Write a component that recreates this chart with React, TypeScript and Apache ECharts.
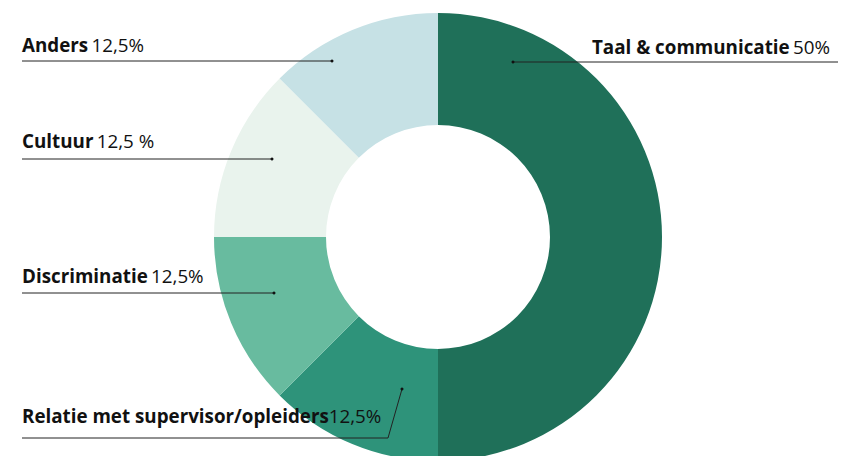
import React, { useEffect, useRef } from "react";
import * as echarts from "echarts";

const categories = ["Taal & communicatie", "Relatie met supervisor/opleiders", "Discriminatie", "Cultuur", "Anders"];
const values = [50, 12.5, 12.5, 12.5, 12.5];
const valueLabels = ["50%", "12,5%", "12,5%", "12,5 %", "12,5%"];
const separators = [" ", "", " ", " ", " "];
const colors = ["#1f7059", "#2e937a", "#68bb9f", "#e9f3ed", "#c6e1e5"];

// label layout: text anchor, alignment and leader line (first point = dot on slice)
const labelPlacements: any[] = [
  { x: 830, y: 47, align: "right", line: [[513, 62], [838, 62]] },
  { x: 22, y: 416, align: "left", line: [[402, 389], [388, 438], [22, 438]] },
  { x: 22, y: 276, align: "left", line: [[274, 293], [22, 293]] },
  { x: 22, y: 141, align: "left", line: [[272, 159], [22, 159]] },
  { x: 22, y: 45, align: "left", line: [[332, 61], [22, 61]] },
];

export default function App() {
  const ref = useRef<HTMLDivElement>(null);
  useEffect(() => {
    if (!ref.current) return;
    const chart = echarts.init(ref.current, null, { renderer: "svg" });
    const graphics: any[] = [];
    labelPlacements.forEach((p) => {
      graphics.push({
        type: "polyline",
        z: 10,
        shape: { points: p.line },
        style: { stroke: "#222", lineWidth: 1, fill: null },
      });
      graphics.push({
        type: "circle",
        z: 11,
        shape: { cx: p.line[0][0], cy: p.line[0][1], r: 1.5 },
        style: { fill: "#111" },
      });
    });
    chart.setOption({
      animation: false,
      backgroundColor: "#ffffff",
      graphic: graphics,
      series: [
        {
          type: "pie",
          center: [438, 237],
          radius: [112, 224],
          startAngle: 90,
          clockwise: true,
          silent: true,
          data: categories.map((c, i) => ({
            name: c,
            value: values[i],
            itemStyle: { color: colors[i] },
            label: {
              formatter: `{b|${c}}${separators[i]}{v|${valueLabels[i]}}`,
            },
          })),
          label: {
            show: true,
            position: "outside",
            overflow: "none",
            alignTo: "none",
            color: "#111",
            rich: {
              b: { fontFamily: "Open Sans", fontWeight: "bold", fontSize: 18.8, color: "#111" },
              v: { fontFamily: "Open Sans", fontWeight: "normal", fontSize: 18.8, color: "#111" },
            },
          },
          labelLine: { show: false },
          labelLayout: (params: any) => {
            const p = labelPlacements[params.dataIndex];
            return {
              x: p.x,
              y: p.y,
              align: p.align,
              verticalAlign: "middle",
              width: 600,
            };
          },
        },
      ],
    });
    return () => chart.dispose();
  }, []);
  return (
    <div
      ref={ref}
      style={{ position: "fixed", left: 0, top: 0, width: 854, height: 456 }}
    />
  );
}
